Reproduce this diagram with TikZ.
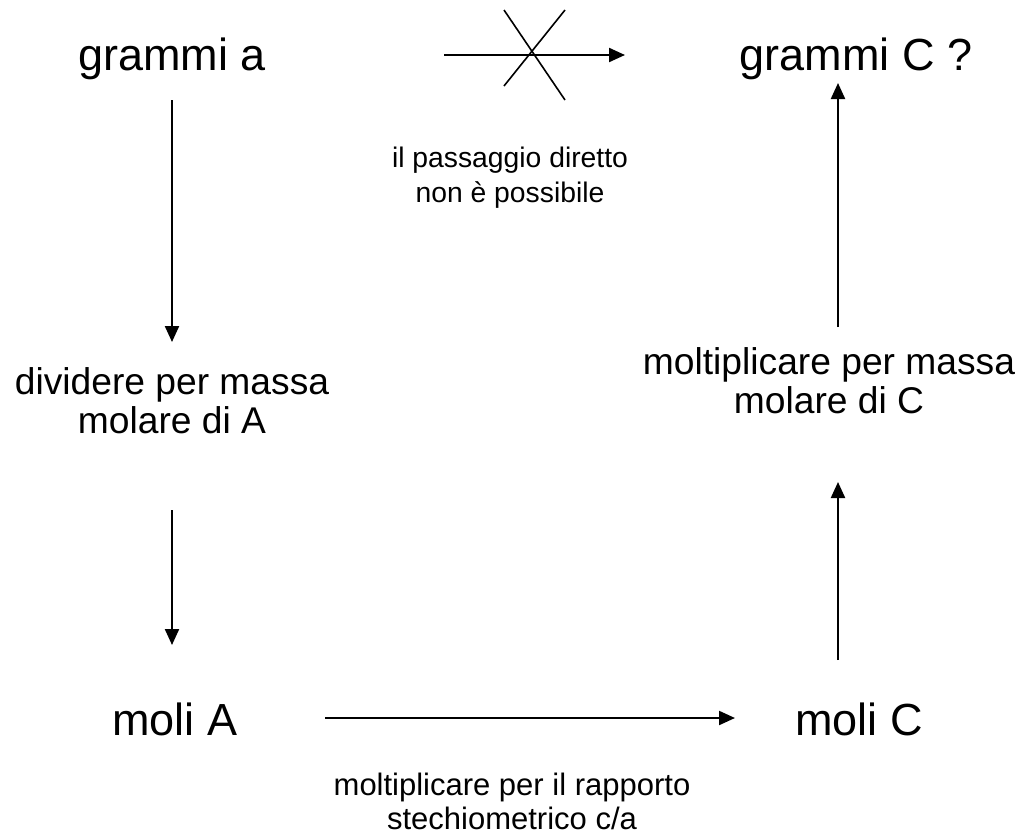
\documentclass[tikz,border=0pt]{standalone}
\usepackage{fontspec}
\setmainfont{Liberation Sans}
\usetikzlibrary{arrows.meta}
\begin{document}
\begin{tikzpicture}[x=1pt,y=-1pt,
  big/.style={font=\fontsize{45}{50}\selectfont, anchor=base, inner sep=0pt},
  mid/.style={font=\fontsize{37.2}{39}\selectfont, align=center, inner sep=0pt},
  sml/.style={font=\fontsize{31}{34}\selectfont, align=center, inner sep=0pt},
  tiny/.style={font=\fontsize{28.3}{35}\selectfont, align=center, inner sep=0pt},
  arr/.style={line width=2.2pt, -{Triangle[length=16pt,width=14pt]}},
  crossline/.style={line width=1.6pt},
]
\useasboundingbox (0,0) rectangle (1021,836);
\node[big] (ga) at (172,70) {grammi a};
\node[big] (gc) at (856,70) {grammi C ?};
\node[big] (ma) at (175,735) {moli A};
\node[big] (mc) at (859,735) {moli C};
\node[tiny] (ltop) at (510,178) {il passaggio diretto\\non è possibile};
\node[mid] (lleft) at (172,401) {dividere per massa\\molare di A};
\node[mid] (lright) at (829,381) {moltiplicare per massa\\molare di C};
\node[sml] (lbot) at (512,801) {moltiplicare per il rapporto\\stechiometrico c/a};
% arrow end points
\coordinate (a1s) at (172,100); \coordinate (a1e) at (172,342);
\coordinate (a2s) at (172,510); \coordinate (a2e) at (172,645);
\coordinate (b1s) at (838,327); \coordinate (b1e) at (838,83);
\coordinate (b2s) at (838,660); \coordinate (b2e) at (838,482);
\coordinate (hs) at (325,718); \coordinate (he) at (735,718);
\coordinate (ts) at (444,55); \coordinate (te) at (625,55);
\coordinate (x1) at (504,10); \coordinate (x2) at (565,100);
\coordinate (x3) at (565,10); \coordinate (x4) at (504,86);
\draw[arr] (a1s) -- (a1e);
\draw[arr] (a2s) -- (a2e);
\draw[arr] (b1s) -- (b1e);
\draw[arr] (b2s) -- (b2e);
\draw[arr] (hs) -- (he);
\draw[arr] (ts) -- (te);
\draw[crossline] (x1) -- (x2);
\draw[crossline] (x3) -- (x4);
\end{tikzpicture}
\end{document}
